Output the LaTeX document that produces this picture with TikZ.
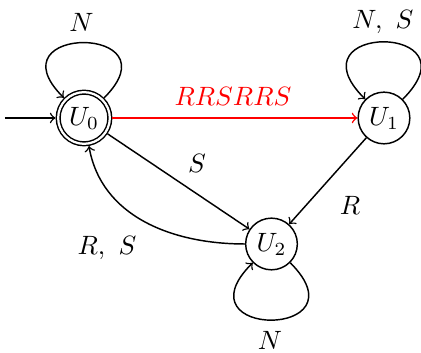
\documentclass[tikz,border=0pt]{standalone}
\begin{document}
\begin{tikzpicture}[x=0.37736pt,y=0.37736pt,line width=0.55pt,
  st/.style={circle,draw,minimum size=19.5pt,inner sep=0pt},
  acc/.style={st,double,double distance=0.85pt,outer sep=1pt},
  edge/.style={->},
  lbl/.style={inner sep=0pt}]
\useasboundingbox (0,0) rectangle (421,353);
\node[acc] (U0) at (84,235) {$U_0$};
\node[st] (U1) at (384,235) {$U_1$};
\node[st] (U2) at (271.5,109) {$U_2$};
\coordinate (init) at (5,235);
\draw[edge] (init) -- (U0);
\draw[edge] (U0.45) .. controls +(45:104) and +(135:104) .. (U0.135);
\draw[edge] (U1.45) .. controls +(45:108) and +(135:108) .. (U1.135);
\draw[edge] (U2.-45) .. controls +(-45:108) and +(-135:108) .. (U2.-135);
\draw[edge,red] (U0) -- (U1);
\draw[edge] (U0) -- (U2);
\draw[edge] (U1) -- (U2);
\draw[edge] (U2) to[out=180,in=-80] (U0);
\node[lbl] (l0) at (81.5,330.5) {$N$};
\node[lbl] (l1) at (383,330.5) {$N,\ S$};
\node[lbl,red] (l2) at (233,257) {$RRSRRS$};
\node[lbl] (l3) at (197,190) {$S$};
\node[lbl] (l4) at (350,148) {$R$};
\node[lbl] (l5) at (107,105) {$R,\ S$};
\node[lbl] (l6) at (270,13) {$N$};
\end{tikzpicture}
\end{document}
